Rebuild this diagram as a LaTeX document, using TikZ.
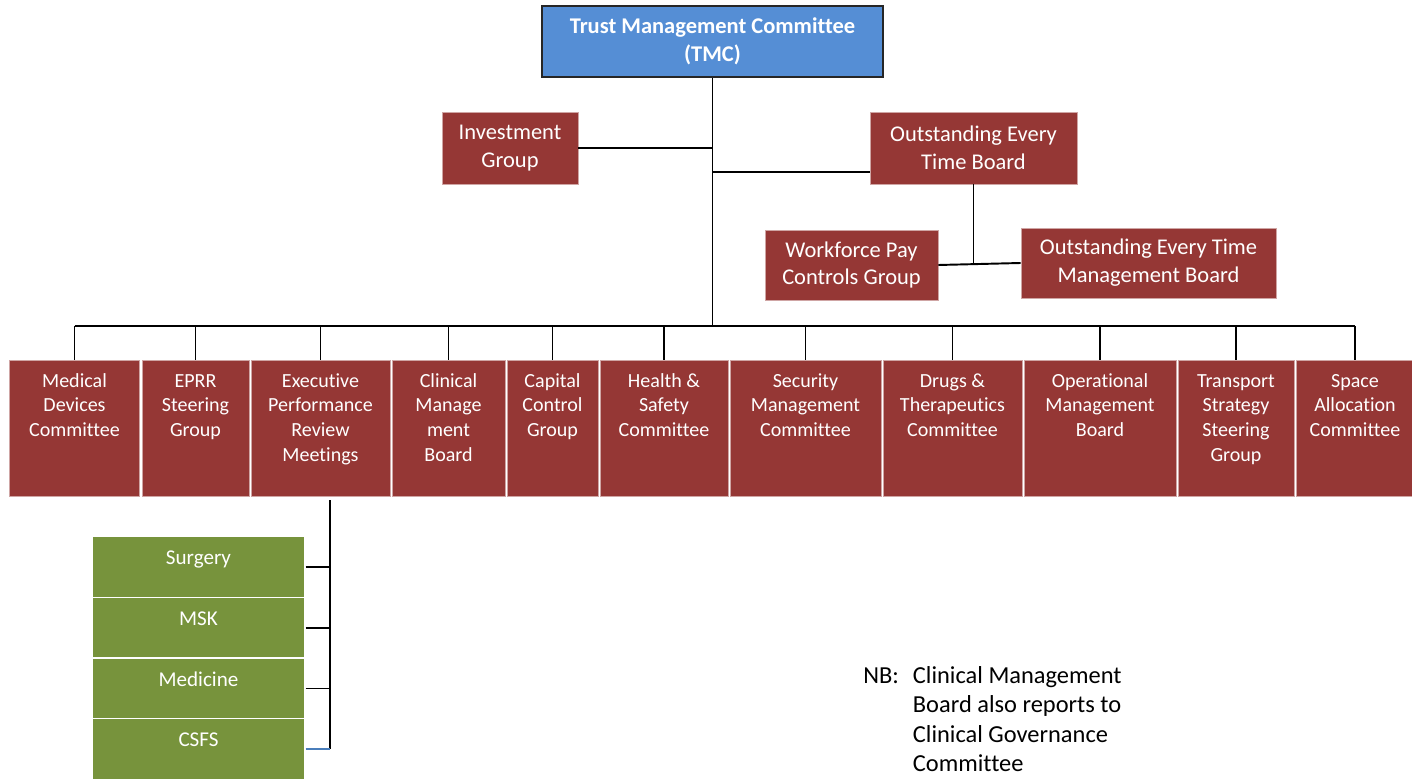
\documentclass[tikz,border=0pt]{standalone}
\usepackage{fontspec}
\setmainfont{Carlito}[Ligatures=NoCommon]
\definecolor{tmcblue}{HTML}{558ED5}
\definecolor{boxred}{HTML}{953735}
\definecolor{unitgreen}{HTML}{77933C}
\definecolor{linkblue}{HTML}{4A7EBB}
\newcommand{\boxtext}[4]{\parbox[c][#2][t]{#1}{\centering\rule{0pt}{#3}#4}}
\tikzset{
  orgline/.style={line width=1.1pt},
  tmcbox/.style={fill=tmcblue, draw=black!85, line width=1.2pt, text=white, align=center, inner sep=0pt, font=\bfseries\fontsize{12.8}{15.9}\selectfont},
  topbox/.style={fill=boxred, draw=boxred!45!white, line width=0.4pt, text=white, align=center, inner sep=0pt, font=\fontsize{12.8}{15.9}\selectfont},
  rowbox/.style={fill=boxred, draw=boxred!45!white, line width=0.4pt, text=white, inner sep=0pt, font=\fontsize{11.4}{14.2}\selectfont},
  unitbox/.style={fill=unitgreen, draw=white, line width=0.8pt, text=white, inner sep=0pt, font=\fontsize{12}{14.4}\selectfont}
}
\begin{document}
\begin{tikzpicture}[x=0.02cm, y=-0.02cm]
\useasboundingbox (0,0) rectangle (1412,780);
\node[tmcbox, minimum width=6.82cm, minimum height=1.42cm] (tmc) at (712.5,41.5) {Trust\ Management\ Committee\\(TMC)};
\node[topbox, minimum width=2.72cm, minimum height=1.44cm] (inv) at (510,148) {Investment\\Group};
\node[topbox, minimum width=4.14cm, minimum height=1.44cm] (oetb) at (973.5,148) {Outstanding Every\\Time Board};
\node[topbox, minimum width=3.46cm, minimum height=1.40cm] (wpc) at (851.5,265) {Workforce Pay\\Controls Group};
\node[topbox, minimum width=5.10cm, minimum height=1.40cm] (oetmb) at (1148.5,263) {Outstanding Every Time\\Management Board};

\node[rowbox] (md) at (74.5,428) {\boxtext{2.60cm}{2.72cm}{0.54cm}{Medical\\Devices\\Committee}};
\node[rowbox] (eprr) at (195.5,428) {\boxtext{2.14cm}{2.72cm}{0.54cm}{EPRR\\Steering\\Group}};
\node[rowbox] (epr) at (320.5,428) {\boxtext{2.78cm}{2.72cm}{0.54cm}{Executive\\Performance\\Review\\Meetings}};
\node[rowbox] (cmb) at (448.5,428) {\boxtext{2.26cm}{2.72cm}{0.54cm}{Clinical\\Manage\\ment\\Board}};
\node[rowbox] (ccg) at (552.5,428) {\boxtext{1.82cm}{2.72cm}{0.54cm}{Capital\\Control\\Group}};
\node[rowbox] (hsc) at (664,428) {\boxtext{2.56cm}{2.72cm}{0.54cm}{Health \&\\Safety\\Committee}};
\node[rowbox] (smc) at (805.5,428) {\boxtext{3.02cm}{2.72cm}{0.54cm}{Security\\Management\\Committee}};
\node[rowbox] (dtc) at (952.5,428) {\boxtext{2.78cm}{2.72cm}{0.54cm}{Drugs \&\\Therapeutics\\Committee}};
\node[rowbox] (omb) at (1100,428) {\boxtext{3.04cm}{2.72cm}{0.54cm}{Operational\\Management\\Board}};
\node[rowbox] (tssg) at (1236,428) {\boxtext{2.32cm}{2.72cm}{0.54cm}{Transport\\Strategy\\Steering\\Group}};
\node[rowbox] (sac) at (1355,428) {\boxtext{2.36cm}{2.72cm}{0.54cm}{Space\\Allocation\\Committee}};

\node[unitbox] (surg) at (198.5,567) {\boxtext{4.26cm}{1.22cm}{0.56cm}{Surgery}};
\node[unitbox] (msk) at (198.5,628) {\boxtext{4.26cm}{1.22cm}{0.56cm}{MSK}};
\node[unitbox] (med) at (198.5,688.5) {\boxtext{4.26cm}{1.22cm}{0.56cm}{Medicine}};
\node[unitbox] (csfs) at (198.5,749) {\boxtext{4.26cm}{1.22cm}{0.56cm}{CSFS}};

\node[anchor=base west, inner sep=0pt, font=\fontsize{13.9}{16.8}\selectfont] (nb) at (863,683) {\begin{tabular}[t]{@{}l@{\hspace{0.28cm}}l@{}}NB: & Clinical Management\\ & Board also reports to\\ & Clinical Governance\\ & Committee\end{tabular}};

\coordinate (bus) at (712.5,326);
\coordinate (sptop) at (330,500);
\draw[orgline] (tmc.south) -- (tmc.south |- bus);
\draw[orgline] (inv.east) -- (inv.east -| tmc.south);
\draw[orgline] ([yshift=-0.48cm]oetb.west) -- ([yshift=-0.48cm]oetb.west -| tmc.south);
\draw[orgline] (oetb.south) -- (oetb.south |- wpc.east);
\draw[orgline] (wpc.east) -- (oetmb.west);
\draw[orgline] (md.north |- bus) -- (sac.north |- bus);
\foreach \b in {md,eprr,epr,cmb,ccg,hsc,smc,dtc,omb,tssg,sac}
  \draw[orgline] (\b.north) -- (\b.north |- bus);
\draw[orgline] (sptop) -- (sptop |- csfs.east);
\foreach \c in {surg,msk,med}
  \draw[orgline] (\c.east) -- (\c.east -| sptop);
\draw[orgline, linkblue] (csfs.east) -- (csfs.east -| sptop);
\end{tikzpicture}
\end{document}
